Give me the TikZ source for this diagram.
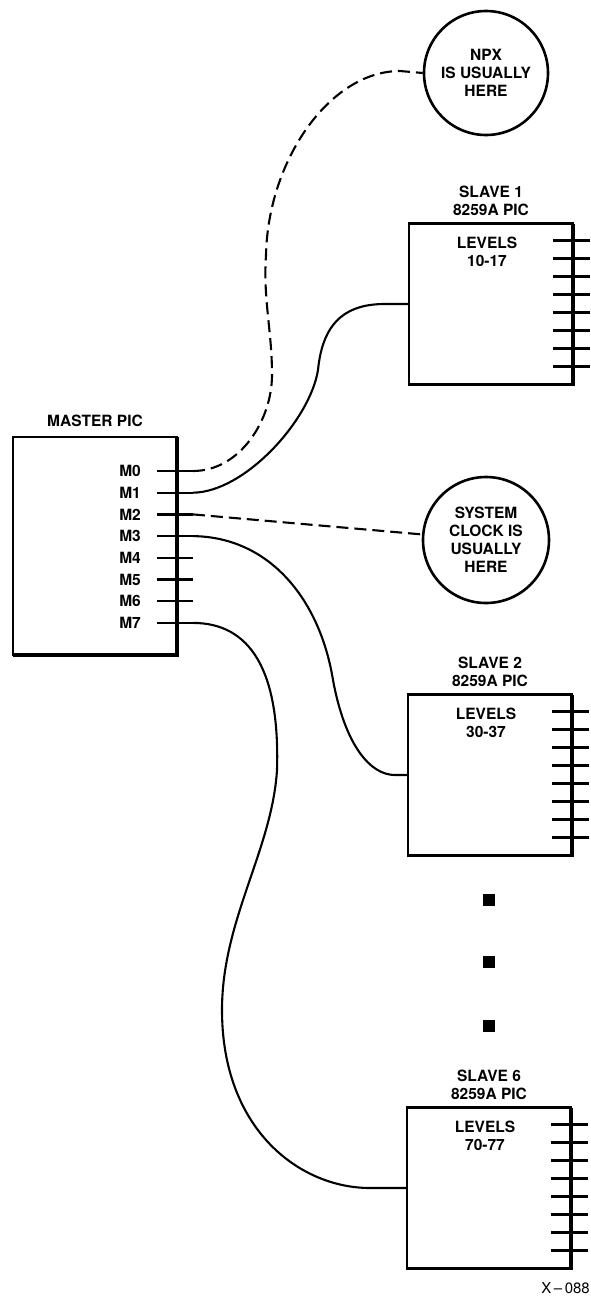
\documentclass[tikz,border=0pt]{standalone}
\usepackage{fontspec}
\setmainfont{TeX Gyre Heros}
\usetikzlibrary{positioning}

\begin{document}
\begin{tikzpicture}[x=1pt, y=-1pt, font=\fontsize{15.5}{18}\selectfont\bfseries, node distance=7pt,
  chip/.style={draw, line width=2.2pt, inner sep=0pt, outer sep=0pt, minimum width=164pt},
  heavy/.style={line width=3.6pt},
  ring/.style={draw, circle, line width=2.6pt, align=center, inner sep=0pt, minimum size=124pt},
  lbl/.style={align=center, inner sep=0pt},
  pin/.style={line width=2.2pt},
  wire/.style={line width=2.1pt},
  dwire/.style={wire, dash pattern=on 12pt off 6pt},
  dotsq/.style={fill, inner sep=0pt, minimum size=12pt}]
\useasboundingbox (0,0) rectangle (591,1299);
\node[chip, minimum height=218pt] (master) at (95,546) {};
\node[chip, minimum height=161pt] (slaveA) at (491,304) {};
\node[chip, minimum height=161pt] (slaveB) at (490,775) {};
\node[chip, minimum height=161pt] (slaveF) at (489,1188) {};
\foreach \b in {master,slaveA,slaveB,slaveF}
  \draw[heavy] (\b.north east) -- (\b.south east) -- (\b.south west);
\node[lbl, above=10pt of master] (mlbl) {MASTER PIC};
\node[lbl, above=8pt of slaveA] (albl) {SLAVE 1\\8259A PIC};
\node[lbl, above=8pt of slaveB] (blbl) {SLAVE 2\\8259A PIC};
\node[lbl, above=8pt of slaveF] (flbl) {SLAVE 6\\8259A PIC};
\node[lbl, below=13pt of slaveA.north, xshift=-4pt] (alvl) {LEVELS\\10-17};
\node[lbl, below=13pt of slaveB.north, xshift=-4pt] (blvl) {LEVELS\\30-37};
\node[lbl, below=13pt of slaveF.north, xshift=-4pt] (flvl) {LEVELS\\70-77};
\node[ring] (npx) at (486,73) {NPX\\IS USUALLY\\HERE};
\node[ring, minimum size=126pt] (clock) at (486,540) {SYSTEM\\CLOCK IS\\USUALLY\\HERE};
\foreach \k in {0,...,7} {
  \draw[pin] ([xshift=-20pt, yshift=-34pt-21.7pt*\k]master.north east) -- ++(36,0) coordinate (m\k);
  \node[lbl, anchor=east] (ml\k) at ([xshift=-36pt, yshift=-34pt-21.7pt*\k]master.north east) {M\k};
}
\foreach \s in {slaveA,slaveB,slaveF}
  \foreach \k in {0,...,7}
    \draw[pin] ([xshift=-20pt, yshift=-17pt-18pt*\k]\s.north east) -- ++(37,0);
\draw[dwire] (m0) .. controls (240,471) and (272,420) .. (272,375)
  .. controls (272,330) and (263,300) .. (266,255)
  .. controls (268,160) and (330,71) .. (400,71) -- (npx.west);
\draw[wire] (m1) .. controls (245,492) and (310,420) .. (318,370)
  .. controls (323,318) and (350,304) .. (385,304) -- (slaveA.west);
\draw[dwire] (m2) -- (clock);
\draw[wire] (m3) .. controls (270,537) and (320,600) .. (333,680)
  .. controls (345,745) and (370,775) .. (395,775) -- (slaveB.west);
\draw[wire] (m7) .. controls (250,623) and (280,670) .. (277,770)
  .. controls (272,850) and (222,920) .. (222,1010)
  .. controls (222,1130) and (300,1188) .. (370,1188) -- (slaveF.west);
\foreach \y [count=\i] in {900,962,1026}
  \node[dotsq] (dot\i) at (489,\y) {};
\node[lbl, font=\fontsize{15}{17}\selectfont\mdseries, anchor=east] (fig) at (590,1288) {X\,--\,088};
\end{tikzpicture}
\end{document}
